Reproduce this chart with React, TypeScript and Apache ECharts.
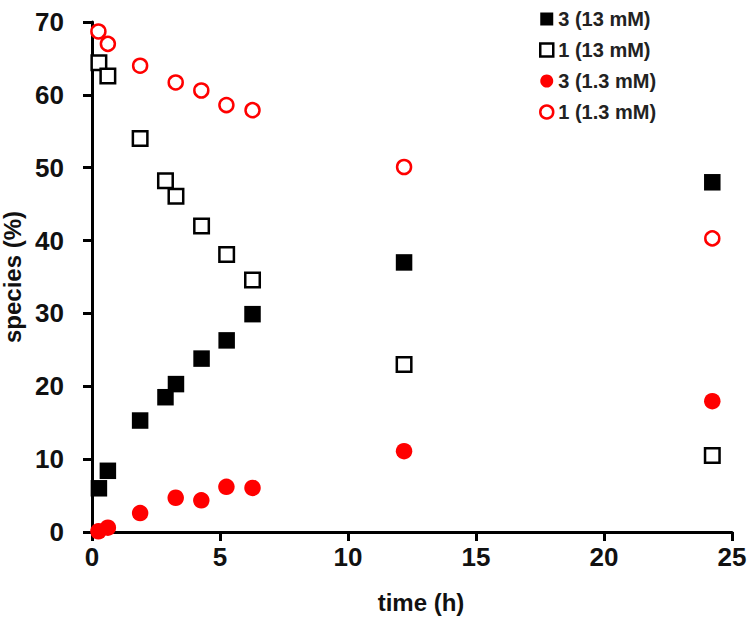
import { useEffect, useRef } from "react";
import * as echarts from "echarts";

// Sampling times (h)
const timeHigh = [0.27, 0.62, 1.88, 2.87, 3.28, 4.28, 5.26, 6.27, 12.19, 24.23];
const timeLow = [0.25, 0.62, 1.88, 3.27, 4.27, 5.25, 6.27, 12.19, 24.23];

// Species (%) at 13 mM
const species3High = [6.0, 8.4, 15.3, 18.5, 20.3, 23.8, 26.3, 29.9, 37.0, 48.0];
const species1High = [64.4, 62.6, 54.0, 48.2, 46.1, 42.0, 38.1, 34.6, 23.0, 10.5];

// Species (%) at 1.3 mM
const species3Low = [0.1, 0.6, 2.6, 4.7, 4.35, 6.2, 6.05, 11.1, 17.95];
const species1Low = [68.7, 67.0, 64.0, 61.7, 60.6, 58.6, 57.9, 50.1, 40.3];

const seriesNames = ["3 (13 mM)", "1 (13 mM)", "3 (1.3 mM)", "1 (1.3 mM)"];

const xTicks = { min: 0, max: 25, interval: 5 };
const yTicks = { min: 0, max: 70, interval: 10 };

const FONT = "Liberation Sans";
const INK = "#111";

const zip = (xs: number[], ys: number[]) => xs.map((x, i) => [x, ys[i]]);

export default function App() {
  const ref = useRef<HTMLDivElement>(null);

  useEffect(() => {
    const chart = echarts.init(ref.current!, null, { renderer: "svg" });

    const axisCommon = {
      axisLine: { show: true, lineStyle: { color: "#000", width: 3 } },
      axisTick: { show: true, inside: false, length: 9, lineStyle: { color: "#000", width: 3 } },
      splitLine: { show: false },
      nameLocation: "middle" as const,
    };

    const nameStyle = { fontFamily: FONT, fontWeight: "bold" as const, fontSize: 24, color: INK };

    chart.setOption({
      animation: false,
      backgroundColor: "#fff",
      grid: {
        left: 92,
        right: 18,
        top: 22,
        bottom: 95,
        containLabel: false,
        outerBoundsMode: "none",
      },
      xAxis: {
        type: "value",
        ...xTicks,
        ...axisCommon,
        name: "time (h)",
        nameGap: 58,
        nameTextStyle: { ...nameStyle, padding: [0, 0, 0, 18] },
        axisLabel: { margin: 12, fontFamily: FONT, fontWeight: "bold", fontSize: 26, color: INK },
      },
      yAxis: {
        type: "value",
        ...yTicks,
        ...axisCommon,
        name: "species (%)",
        nameGap: 62,
        nameTextStyle: nameStyle,
        axisLabel: { margin: 28, fontFamily: FONT, fontWeight: "bold", fontSize: 26, color: INK },
      },
      legend: {
        orient: "vertical",
        left: 534,
        top: 4,
        itemWidth: 13,
        itemHeight: 13,
        itemGap: 11,
        textStyle: { fontFamily: FONT, fontWeight: "bold", fontSize: 20, color: "#222" },
        data: [
          { name: seriesNames[0], icon: "rect", itemStyle: { color: "#000" } },
          { name: seriesNames[1], icon: "rect", itemStyle: { color: "#fff", borderColor: "#000", borderWidth: 2.5 } },
          { name: seriesNames[2], icon: "circle", itemStyle: { color: "#ff0000" } },
          { name: seriesNames[3], icon: "circle", itemStyle: { color: "#fff", borderColor: "#ff0000", borderWidth: 2.5 } },
        ],
      },
      series: [
        {
          name: seriesNames[1],
          type: "scatter",
          symbol: "rect",
          symbolSize: 14.5,
          itemStyle: { color: "#fff", borderColor: "#000", borderWidth: 2.5, opacity: 1 },
          data: zip(timeHigh, species1High),
          z: 3,
        },
        {
          name: seriesNames[0],
          type: "scatter",
          symbol: "rect",
          symbolSize: 16.5,
          itemStyle: { color: "#000", opacity: 1 },
          data: zip(timeHigh, species3High),
          z: 3,
        },
        {
          name: seriesNames[3],
          type: "scatter",
          symbol: "circle",
          symbolSize: 14,
          itemStyle: { color: "#fff", borderColor: "#ff0000", borderWidth: 2.5, opacity: 1 },
          data: zip(timeLow, species1Low),
          z: 4,
        },
        {
          name: seriesNames[2],
          type: "scatter",
          symbol: "circle",
          symbolSize: 16.5,
          itemStyle: { color: "#ff0000", opacity: 1 },
          data: zip(timeLow, species3Low),
          z: 4,
        },
      ],
    });

    return () => chart.dispose();
  }, []);

  return (
    <div
      ref={ref}
      style={{ position: "absolute", left: 0, top: 0, width: 750, height: 627 }}
    />
  );
}
